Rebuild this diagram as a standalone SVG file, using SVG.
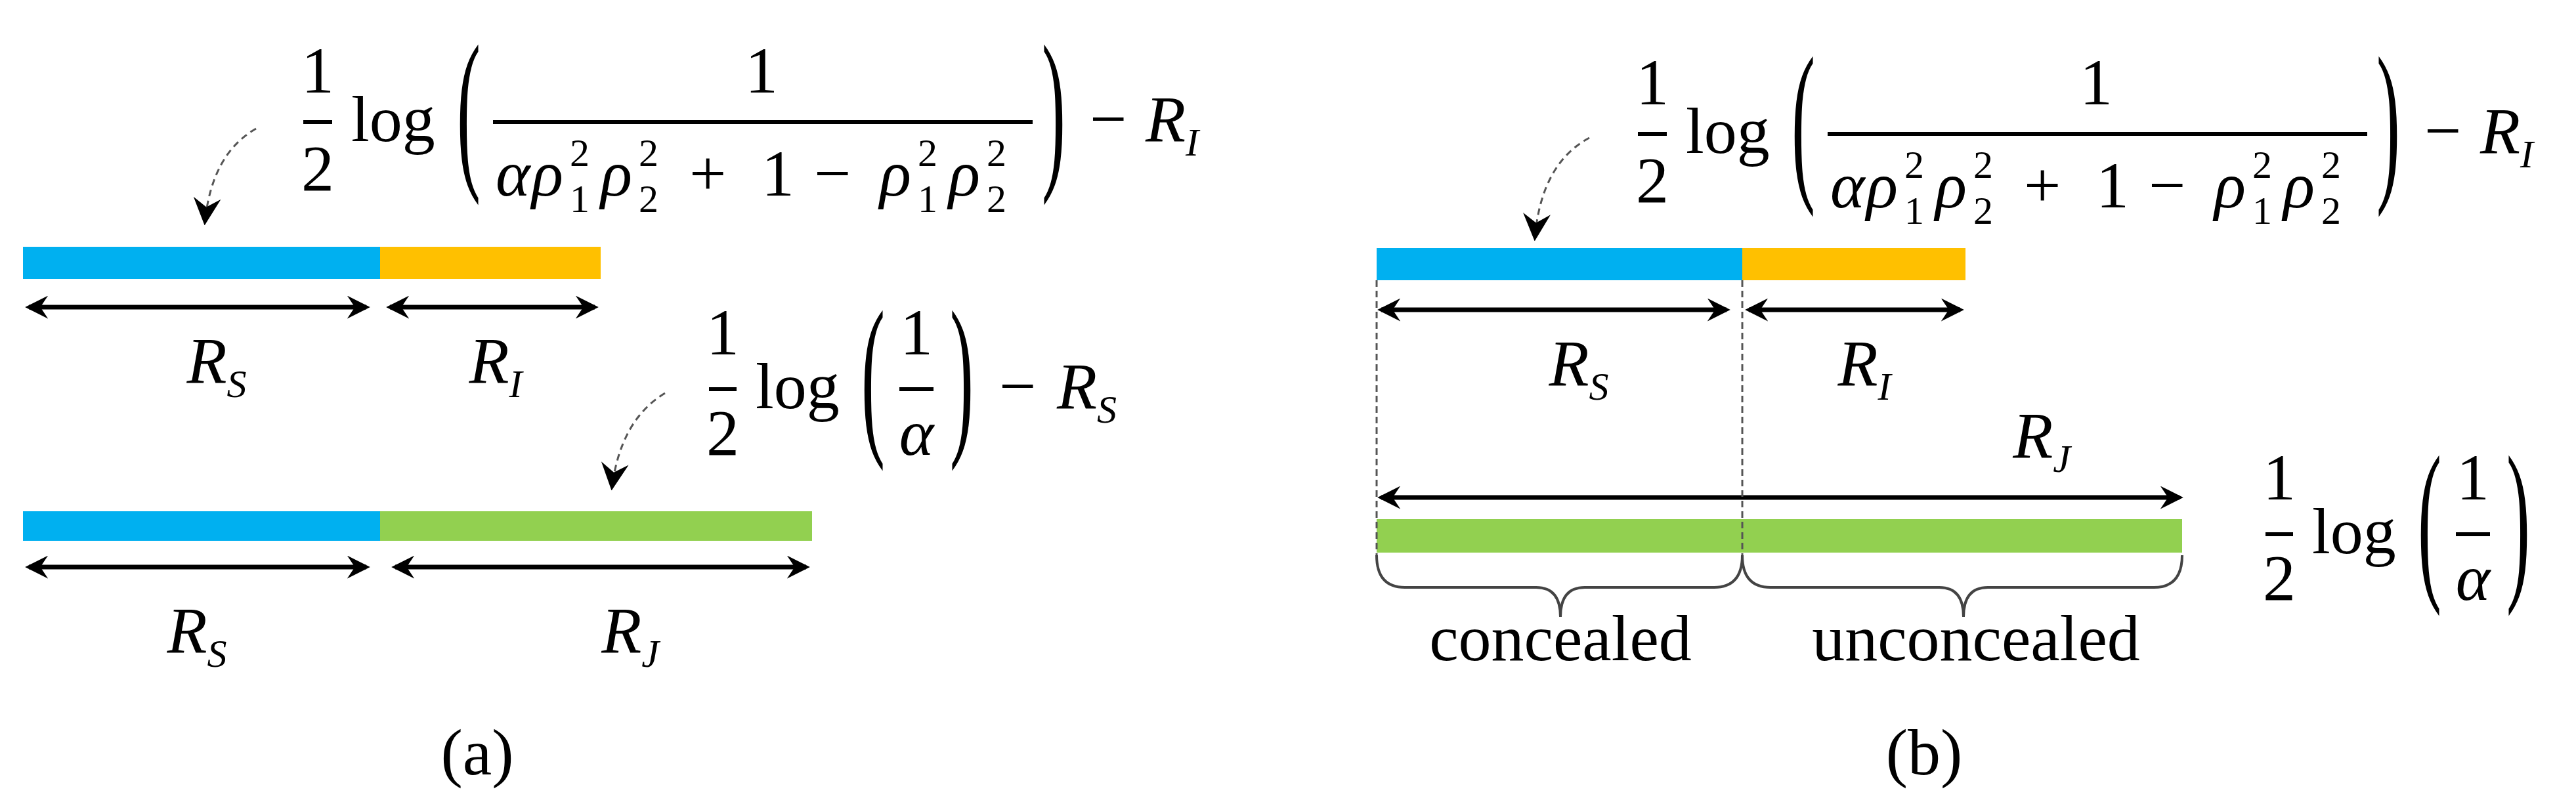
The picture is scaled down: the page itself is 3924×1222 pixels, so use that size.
<svg xmlns="http://www.w3.org/2000/svg" xmlns:xlink="http://www.w3.org/1999/xlink" width="3924" height="1222" viewBox="0 0 3924 1222">
<style>
text{font-family:"Liberation Serif",serif;fill:#000}
.m{font-size:100px}
.i{font-style:italic}
.s{font-size:60px}
.b{font-size:270px}
.lbl{font-size:100px}
.dim{stroke:#000;stroke-width:7;fill:none;marker-start:url(#ah);marker-end:url(#ah)}
.fb{stroke:#000;stroke-width:6}
.cur{stroke:#555;stroke-width:3;fill:none;stroke-dasharray:10 7;marker-end:url(#ch)}
.vd{stroke:#555;stroke-width:3;stroke-dasharray:10 6}
.br{stroke:#444;stroke-width:4;fill:none}
</style>
<defs>
<marker id="ah" viewBox="0 0 12 12" refX="10" refY="6" markerWidth="5" markerHeight="5" orient="auto-start-reverse" markerUnits="strokeWidth"><path d="M0,0 L12,6 L0,12 L4,6 Z" fill="#000"/></marker>
<marker id="ch" viewBox="0 0 12 12" refX="11" refY="6" markerWidth="14" markerHeight="14" orient="auto" markerUnits="strokeWidth"><path d="M0,0 L12,6 L0,12 L4,6 Z" fill="#000"/></marker>
<g id="f1">
<text class="m" x="484" y="141" text-anchor="middle">1</text>
<line class="fb" x1="462" y1="186" x2="506" y2="186"/>
<text class="m" x="484" y="290" text-anchor="middle">2</text>
<text class="m" x="535" y="215">log</text>
<text class="b" transform="translate(714,255) scale(0.4,1)" text-anchor="middle">(</text>
<line class="fb" x1="751" y1="186" x2="1573" y2="186"/>
<text class="m" x="1160" y="141" text-anchor="middle">1</text>
<text class="m i" x="755" y="298">α</text>
<text class="m i" x="810" y="298">ρ</text>
<text class="s" x="868" y="253">2</text><text class="s" x="868" y="323">1</text>
<text class="m i" x="915" y="298">ρ</text>
<text class="s" x="973" y="253">2</text><text class="s" x="973" y="323">2</text>
<text class="m" x="1050" y="298">+</text>
<text class="m" x="1160" y="298">1</text>
<text class="m" x="1240" y="298">−</text>
<text class="m i" x="1340" y="298">ρ</text>
<text class="s" x="1398" y="253">2</text><text class="s" x="1398" y="323">1</text>
<text class="m i" x="1445" y="298">ρ</text>
<text class="s" x="1503" y="253">2</text><text class="s" x="1503" y="323">2</text>
<text class="b" transform="translate(1605,255) scale(0.4,1)" text-anchor="middle">)</text>
<text class="m" x="1660" y="215">−</text>
<text class="m i" x="1745" y="215">R<tspan class="s" dy="22">I</tspan></text>
</g>
<g id="f2">
<text class="m" x="1101" y="540" text-anchor="middle">1</text>
<line class="fb" x1="1080" y1="593" x2="1122" y2="593"/>
<text class="m" x="1101" y="693" text-anchor="middle">2</text>
<text class="m" x="1151" y="622">log</text>
<text class="b" transform="translate(1330,660) scale(0.4,1)" text-anchor="middle">(</text>
<text class="m" x="1396" y="540" text-anchor="middle">1</text>
<line class="fb" x1="1370" y1="593" x2="1422" y2="593"/>
<text class="m i" x="1396" y="693" text-anchor="middle">α</text>
<text class="b" transform="translate(1465,660) scale(0.4,1)" text-anchor="middle">)</text>
</g>
</defs>

<g id="panel-a">
<g id="a-bar1"><rect x="35" y="376" width="544" height="49" fill="#00B0F0"/><rect x="579" y="376" width="336" height="49" fill="#FFC000"/></g>
<g id="a-bar2"><rect x="35" y="779" width="544" height="45" fill="#00B0F0"/><rect x="579" y="779" width="658" height="45" fill="#92D050"/></g>
<g id="a-formula1"><use xlink:href="#f1"/></g>
<g id="a-formula2"><use xlink:href="#f2"/>
<text class="m" x="1522" y="622">−</text>
<text class="m i" x="1610" y="622">R<tspan class="s" dy="22">S</tspan></text></g>
<g id="a-labels" class="lbl">
<text class="i" x="330" y="583" text-anchor="middle">R<tspan class="s" dy="22">S</tspan></text>
<text class="i" x="755" y="583" text-anchor="middle">R<tspan class="s" dy="22">I</tspan></text>
<text class="i" x="300" y="994" text-anchor="middle">R<tspan class="s" dy="22">S</tspan></text>
<text class="i" x="960" y="994" text-anchor="middle">R<tspan class="s" dy="22">J</tspan></text>
<text x="727" y="1180" text-anchor="middle">(a)</text>
</g>
</g>

<g id="panel-b">
<g id="b-bar1"><rect x="2097" y="378" width="557" height="49" fill="#00B0F0"/><rect x="2654" y="378" width="340" height="49" fill="#FFC000"/></g>
<g id="b-bar2"><rect x="2097" y="791" width="1227" height="51" fill="#92D050"/></g>
<g id="b-formula1"><use xlink:href="#f1" transform="translate(2033,18)"/></g>
<g id="b-formula2"><use xlink:href="#f2" transform="translate(2371,221)"/></g>
<g id="b-labels" class="lbl">
<text class="i" x="2405" y="587" text-anchor="middle">R<tspan class="s" dy="22">S</tspan></text>
<text class="i" x="2840" y="587" text-anchor="middle">R<tspan class="s" dy="22">I</tspan></text>
<text class="i" x="3110" y="697" text-anchor="middle">R<tspan class="s" dy="22">J</tspan></text>
<text x="2377" y="1006" text-anchor="middle">concealed</text>
<text x="3010" y="1006" text-anchor="middle">unconcealed</text>
<text x="2931" y="1180" text-anchor="middle">(b)</text>
</g>
</g>

<g id="connectors">
<line class="dim" x1="44" y1="468" x2="558" y2="468"/>
<line class="dim" x1="594" y1="468" x2="906" y2="468"/>
<line class="dim" x1="44" y1="864" x2="558" y2="864"/>
<line class="dim" x1="602" y1="864" x2="1228" y2="864"/>
<path class="cur" d="M390,196 Q322,235 312,340"/>
<path class="cur" d="M1013,599 Q945,640 932,744"/>
<line class="dim" x1="2104" y1="472" x2="2630" y2="472"/>
<line class="dim" x1="2664" y1="472" x2="2986" y2="472"/>
<line class="dim" x1="2104" y1="758" x2="3320" y2="758"/>
<path class="cur" d="M2421,210 Q2347,250 2338,364"/>
<line class="vd" x1="2097" y1="427" x2="2097" y2="846"/>
<line class="vd" x1="2654" y1="427" x2="2654" y2="846"/>
<path class="br" d="M2097,846 Q2097,895 2140,895 L2340,895 Q2377,895 2377,940 Q2377,895 2414,895 L2611,895 Q2654,895 2654,846"/>
<path class="br" d="M2654,846 Q2654,895 2697,895 L2954,895 Q2991,895 2991,940 Q2991,895 3028,895 L3281,895 Q3324,895 3324,846"/>
</g>
</svg>
